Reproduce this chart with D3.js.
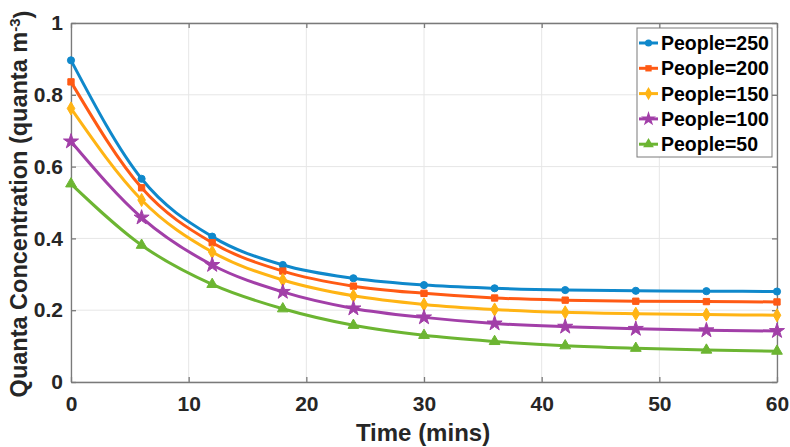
<!DOCTYPE html>
<html>
<head>
<meta charset="utf-8">
<script src="https://cdn.jsdelivr.net/npm/d3@7"></script>
<style>
  body { margin: 0; background: #fff; }
  text { font-family: Arial, "Liberation Sans", sans-serif; font-weight: bold; }
</style>
</head>
<body>
<div id="plot"></div>
<script>
// SVG size
var svgWidth = 790;
var svgHeight = 447;

// margins so the axes box sits where the reference has it
var chartMargin = { top: 23, right: 13, bottom: 65, left: 71 };
var chartWidth = svgWidth - chartMargin.left - chartMargin.right;
var chartHeight = svgHeight - chartMargin.top - chartMargin.bottom;

// data (markers every 6 minutes)
var times = [0, 6, 12, 18, 24, 30, 36, 42, 48, 54, 60];
var people250 = [0.896, 0.566, 0.405, 0.326, 0.289, 0.270, 0.261, 0.256, 0.254, 0.253, 0.252];
var people200 = [0.836, 0.541, 0.388, 0.309, 0.267, 0.247, 0.234, 0.228, 0.225, 0.224, 0.223];
var people150 = [0.762, 0.507, 0.362, 0.284, 0.240, 0.216, 0.202, 0.194, 0.190, 0.188, 0.186];
var people100 = [0.670, 0.458, 0.326, 0.251, 0.205, 0.180, 0.163, 0.154, 0.148, 0.144, 0.142];
var people50 = [0.552, 0.381, 0.272, 0.204, 0.158, 0.130, 0.113, 0.101, 0.094, 0.089, 0.086];

var seriesNames = ["People=250", "People=200", "People=150", "People=100", "People=50"];
var seriesValues = [people250, people200, people150, people100, people50];
var seriesColors = ["#0f88cb", "#ff5a14", "#ffb414", "#a23fa8", "#6cb532"];
var seriesMarkers = [d3.symbolCircle, d3.symbolSquare, d3.symbolDiamond, d3.symbolStar, d3.symbolTriangle];
var markerSizes = [40, 40, 50, 70, 50];

var xTicks = [0, 10, 20, 30, 40, 50, 60];
var yTicks = [0, 0.2, 0.4, 0.6, 0.8, 1];

var svg = d3.select("#plot")
    .append("svg")
    .attr("width", svgWidth)
    .attr("height", svgHeight);

var chartGroup = svg.append("g")
    .attr("transform", `translate(${chartMargin.left}, ${chartMargin.top})`);

// scales
var xScale = d3.scaleLinear().domain([0, 60]).range([0, chartWidth]);
var yScale = d3.scaleLinear().domain([0, 1]).range([chartHeight, 0]);

// grid lines
chartGroup.append("g")
    .selectAll("line.gx")
    .data(xTicks)
    .enter()
    .append("line")
    .attr("x1", d => xScale(d)).attr("x2", d => xScale(d))
    .attr("y1", 0).attr("y2", chartHeight)
    .attr("stroke", "#e6e6e6").attr("stroke-width", 1);

chartGroup.append("g")
    .selectAll("line.gy")
    .data(yTicks)
    .enter()
    .append("line")
    .attr("x1", 0).attr("x2", chartWidth)
    .attr("y1", d => yScale(d)).attr("y2", d => yScale(d))
    .attr("stroke", "#e6e6e6").attr("stroke-width", 1);

// axes (MATLAB style: ticks inside, box all round)
var axisColor = "#7a7a7a";
var tickColor = "#262626";

var bottomAxis = d3.axisBottom(xScale).tickValues(xTicks).tickSizeInner(-5).tickSizeOuter(0).tickPadding(14);
var leftAxis = d3.axisLeft(yScale).tickValues(yTicks).tickSizeInner(-5).tickSizeOuter(0).tickPadding(8)
    .tickFormat(d3.format("~g"));
var topAxis = d3.axisTop(xScale).tickValues(xTicks).tickSizeInner(-5).tickSizeOuter(0).tickFormat("");
var rightAxis = d3.axisRight(yScale).tickValues(yTicks).tickSizeInner(-5).tickSizeOuter(0).tickFormat("");

var xAxisG = chartGroup.append("g")
    .attr("transform", `translate(0, ${chartHeight})`)
    .call(bottomAxis);
var yAxisG = chartGroup.append("g").call(leftAxis);
var topG = chartGroup.append("g").call(topAxis);
var rightG = chartGroup.append("g").attr("transform", `translate(${chartWidth}, 0)`).call(rightAxis);

[xAxisG, yAxisG, topG, rightG].forEach(function (g) {
    g.selectAll(".domain").attr("stroke", axisColor).attr("stroke-width", 1.3);
    g.selectAll(".tick line").attr("stroke", axisColor).attr("stroke-width", 1.3);
    g.selectAll(".tick text")
        .attr("fill", tickColor)
        .style("font-size", "21px")
        .style("font-weight", "bold");
});

// axis labels
chartGroup.append("text")
    .attr("x", chartWidth / 2 - 1)
    .attr("y", chartHeight + 59)
    .attr("text-anchor", "middle")
    .attr("fill", tickColor)
    .style("font-size", "24px")
    .text("Time (mins)");

var yLabel = chartGroup.append("text")
    .attr("transform", "rotate(-90)")
    .attr("x", -181)
    .attr("y", -44)
    .attr("text-anchor", "middle")
    .attr("fill", tickColor)
    .style("font-size", "23.5px");
yLabel.append("tspan").text("Quanta Concentration (quanta m");
yLabel.append("tspan").attr("dy", "-0.5em").style("font-size", "15px").text("-3");
yLabel.append("tspan").attr("dy", "0.5em").text(")");

// lines and markers
var lineGen = d3.line()
    .x((d, i) => xScale(times[i]))
    .y(d => yScale(d))
    .curve(d3.curveMonotoneX);

seriesValues.forEach(function (vals, s) {
    chartGroup.append("path")
        .datum(vals)
        .attr("d", lineGen)
        .attr("fill", "none")
        .attr("stroke", seriesColors[s])
        .attr("stroke-width", 3);

    chartGroup.selectAll(".m" + s)
        .data(vals)
        .enter()
        .append("path")
        .attr("class", "m" + s)
        .attr("transform", (d, i) => `translate(${xScale(times[i])}, ${yScale(d)})`)
        .attr("d", d3.symbol().type(seriesMarkers[s]).size(markerSizes[s]))
        .attr("fill", seriesColors[s])
        .attr("stroke", seriesColors[s])
        .attr("stroke-width", 1);
});

// legend
var legendX = 637 - chartMargin.left;
var legendY = 28 - chartMargin.top;
var legend = chartGroup.append("g")
    .attr("transform", `translate(${legendX}, ${legendY})`);

legend.append("rect")
    .attr("width", 135)
    .attr("height", 129)
    .attr("fill", "#fff")
    .attr("stroke", axisColor)
    .attr("stroke-width", 1);

seriesNames.forEach(function (name, s) {
    var yy = 15 + s * 25.3;
    legend.append("line")
        .attr("x1", 2).attr("x2", 21)
        .attr("y1", yy).attr("y2", yy)
        .attr("stroke", seriesColors[s])
        .attr("stroke-width", 3);
    legend.append("path")
        .attr("transform", `translate(11.5, ${yy})`)
        .attr("d", d3.symbol().type(seriesMarkers[s]).size(markerSizes[s]))
        .attr("fill", seriesColors[s]);
    legend.append("text")
        .attr("x", 24)
        .attr("y", yy)
        .attr("dy", "0.36em")
        .attr("fill", "#000")
        .style("font-size", "19.5px")
        .text(name);
});
</script>
</body>
</html>
